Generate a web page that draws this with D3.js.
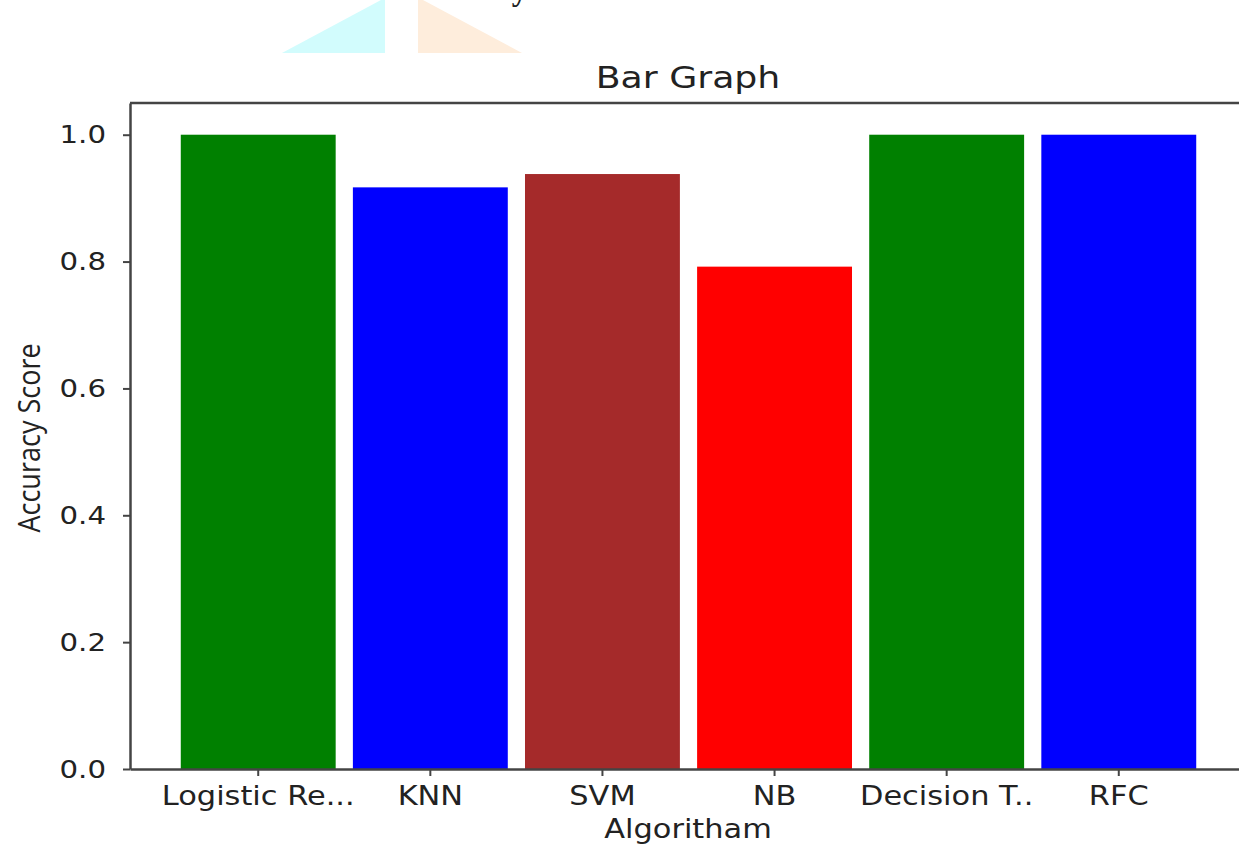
<!DOCTYPE html>
<html>
<head>
<meta charset="utf-8">
<script src="https://cdn.jsdelivr.net/npm/d3@7"></script>
<style>
  body { margin: 0; background: #fff; overflow: hidden; }
  text { font-family: "DejaVu Sans", sans-serif; fill: #222; }
</style>
</head>
<body>
<script>
var algorithms = ['Logistic Re...', 'KNN', 'SVM', 'NB', 'Decision T..', 'RFC'];
var accuracy   = [1.0, 0.917, 0.938, 0.792, 1.0, 1.0];
var barColors  = ['green', 'blue', 'brown', 'red', 'green', 'blue'];
var yTicks     = [0.0, 0.2, 0.4, 0.6, 0.8, 1.0];

var W = 1239, H = 845;
var plotLeft = 130, plotTop = 103, plotBottom = 769, plotRight = 1247;
var stretch = 1.17;

var svg = d3.select('body').append('svg')
            .attr('width', W)
            .attr('height', H);

// page leftovers above the figure (heading is almost entirely cut off)
svg.append('text')
   .attr('x', 12).attr('y', 0)
   .style('font-family', '"Liberation Serif", serif')
   .style('font-weight', 'bold')
   .style('font-size', '31.5px')
   .text('G. Performance Evaluation and Analysis:');

svg.append('path')
   .attr('d', 'M282,53 L381,0 L385,0 L385,53 Z')
   .attr('fill', '#d2fcfd');
svg.append('path')
   .attr('d', 'M418,0 L423,0 L522,53 L418,53 Z')
   .attr('fill', '#feeddc');

var x = d3.scaleBand()
          .domain(algorithms)
          .range([plotLeft, plotRight])
          .paddingInner(0.1)
          .paddingOuter(0.295);

var y = d3.scaleLinear()
          .domain([0, 1.05])
          .range([plotBottom, plotTop]);

// bars
svg.selectAll('rect.bar')
   .data(algorithms)
   .enter().append('rect')
   .attr('class', 'bar')
   .attr('x', function(d){ return x(d); })
   .attr('width', x.bandwidth())
   .attr('y', function(d, i){ return y(accuracy[i]); })
   .attr('height', function(d, i){ return y(0) - y(accuracy[i]); })
   .attr('fill', function(d, i){ return barColors[i]; });

// top spine (right one is off the page)
svg.append('line')
   .attr('x1', plotLeft).attr('x2', plotRight)
   .attr('y1', plotTop).attr('y2', plotTop)
   .attr('stroke', '#444')
   .attr('stroke-width', 2.5);

// axes
var xAxis = svg.append('g')
   .attr('transform', 'translate(0,' + plotBottom + ')')
   .call(d3.axisBottom(x).tickSizeInner(7).tickSizeOuter(0).tickPadding(11));
var yAxis = svg.append('g')
   .attr('transform', 'translate(' + plotLeft + ',0)')
   .call(d3.axisLeft(y).tickValues(yTicks).tickFormat(d3.format('.1f'))
           .tickSizeInner(7).tickSizeOuter(0).tickPadding(9));

[xAxis, yAxis].forEach(function(g){
  g.select('.domain').attr('stroke', '#444').attr('stroke-width', 2.5);
  g.selectAll('.tick line').attr('stroke', '#444').attr('stroke-width', 2);
  g.selectAll('.tick text')
   .attr('fill', '#222')
   .style('font-family', '"DejaVu Sans", sans-serif')
   .style('font-size', '26px');
});

// widen tick text to match the stretched picture
xAxis.selectAll('.tick text')
     .attr('transform', 'scale(' + stretch + ',1)');
yAxis.selectAll('.tick text')
     .style('font-size', '25px')
     .attr('transform', 'scale(' + stretch + ',1)')
     .attr('x', -24 / stretch);

// title and axis labels
svg.append('text')
   .attr('transform', 'translate(688,88) scale(' + stretch + ',1)')
   .attr('text-anchor', 'middle')
   .style('font-size', '31px')
   .text('Bar Graph');

svg.append('text')
   .attr('transform', 'translate(688,838) scale(' + stretch + ',1)')
   .attr('text-anchor', 'middle')
   .style('font-size', '26px')
   .text('Algoritham');

svg.append('text')
   .attr('transform', 'translate(40,438) scale(' + stretch + ',1) rotate(-90)')
   .attr('text-anchor', 'middle')
   .style('font-family', '"Open Sans", sans-serif')
   .style('font-size', '27px')
   .text('Accuracy Score');
</script>
</body>
</html>
